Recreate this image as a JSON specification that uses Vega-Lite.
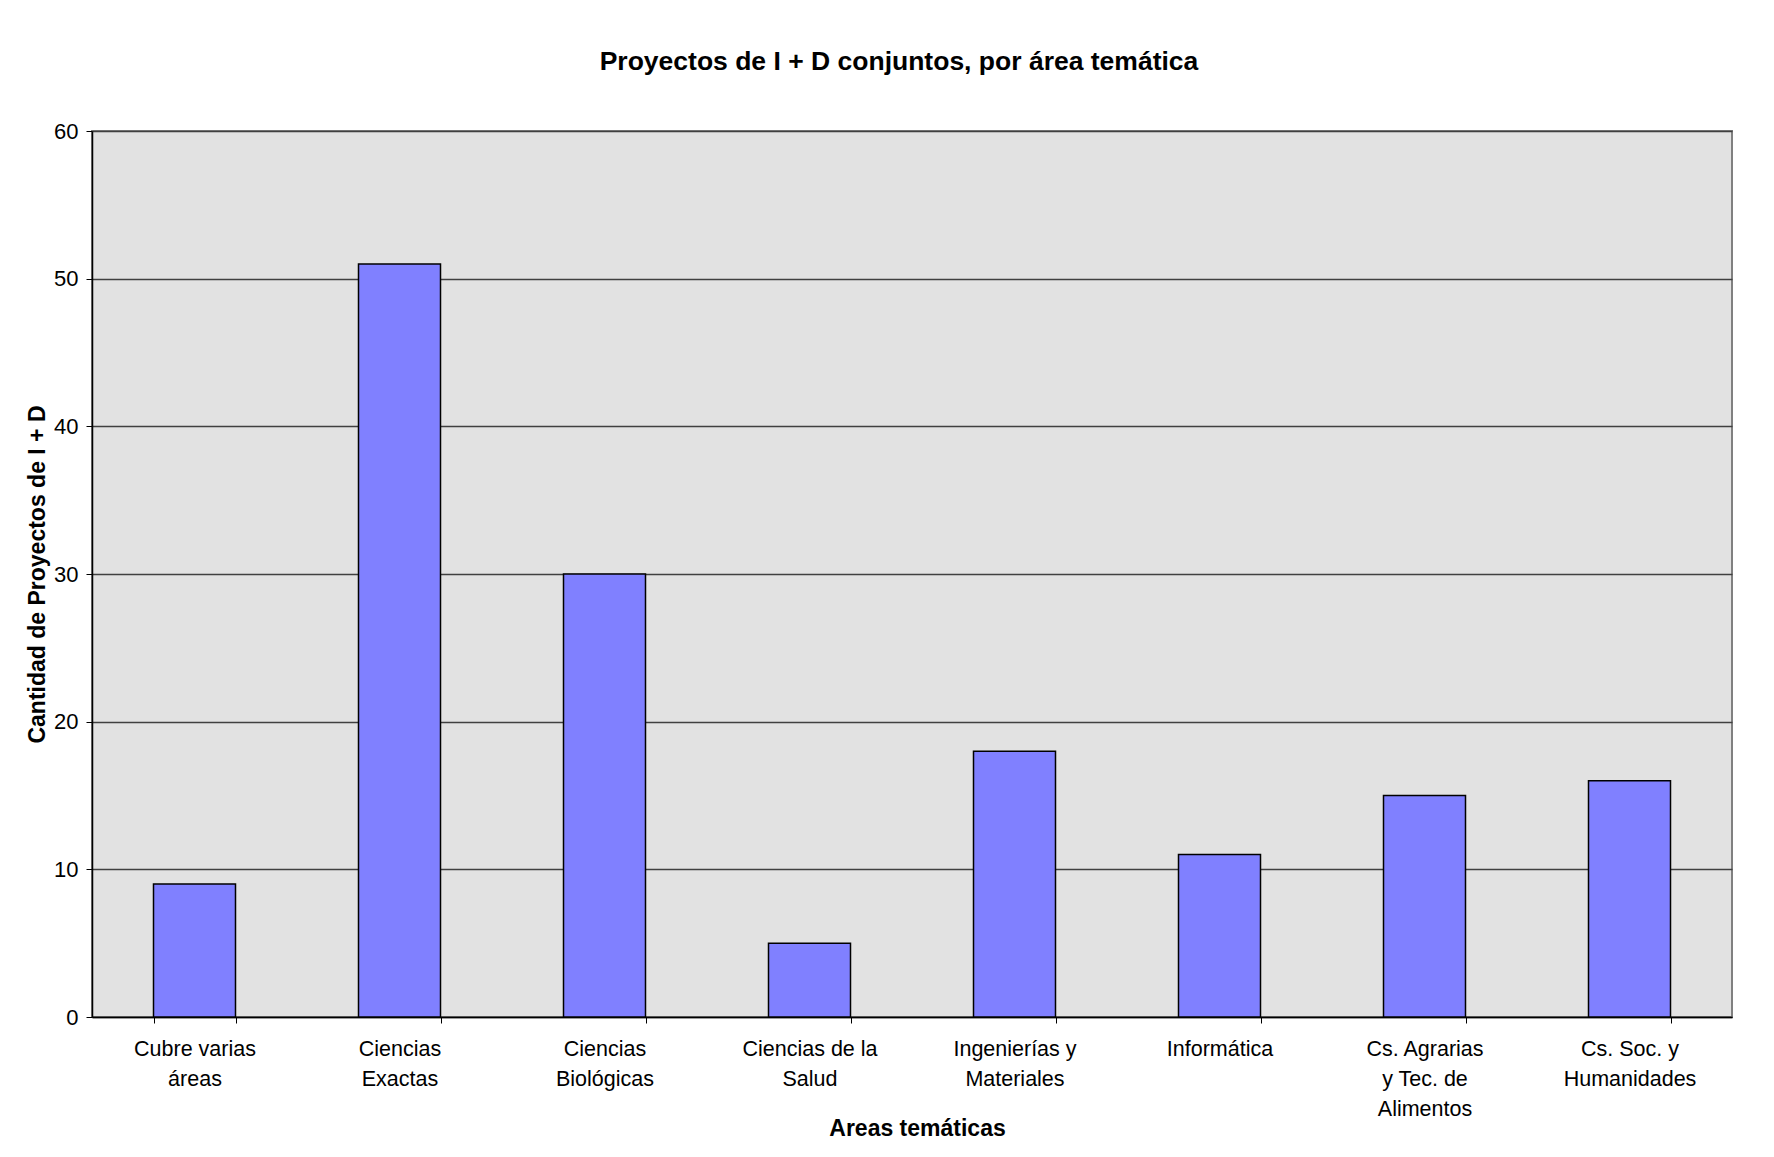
{
  "$schema": "https://vega.github.io/schema/vega-lite/v6.json",
  "autosize": "none",
  "width": 1640,
  "height": 886,
  "padding": {"left": 92, "top": 131, "right": 42, "bottom": 140},
  "background": "white",
  "title": {
    "text": "Proyectos de I + D conjuntos, por área temática",
    "font": "Liberation Sans",
    "fontSize": 26.5,
    "fontWeight": "bold",
    "color": "black",
    "anchor": "middle",
    "dx": -13,
    "offset": 45
  },
  "data": {
    "values": [
      {"area": "Cubre varias áreas", "proyectos": 9},
      {"area": "Ciencias Exactas", "proyectos": 51},
      {"area": "Ciencias Biológicas", "proyectos": 30},
      {"area": "Ciencias de la Salud", "proyectos": 5},
      {"area": "Ingenierías y Materiales", "proyectos": 18},
      {"area": "Informática", "proyectos": 11},
      {"area": "Cs. Agrarias y Tec. de Alimentos", "proyectos": 15},
      {"area": "Cs. Soc. y Humanidades", "proyectos": 16}
    ]
  },
  "mark": {"type": "bar", "color": "#8080FF", "stroke": "black", "strokeWidth": 1.5},
  "encoding": {
    "x": {
      "field": "area",
      "type": "nominal",
      "sort": null,
      "scale": {"paddingInner": 0.6, "paddingOuter": 0.3},
      "axis": {
        "title": "Areas temáticas",
        "titleFont": "Liberation Sans",
        "titleFontSize": 23,
        "titleFontWeight": "bold",
        "titleColor": "black",
        "titleBaseline": "middle",
        "titleY": 111,
        "titleX": 825,
        "labelExpr": "{'Cubre varias áreas':['Cubre varias','áreas'],'Ciencias Exactas':['Ciencias','Exactas'],'Ciencias Biológicas':['Ciencias','Biológicas'],'Ciencias de la Salud':['Ciencias de la','Salud'],'Ingenierías y Materiales':['Ingenierías y','Materiales'],'Informática':['Informática'],'Cs. Agrarias y Tec. de Alimentos':['Cs. Agrarias','y Tec. de','Alimentos'],'Cs. Soc. y Humanidades':['Cs. Soc. y','Humanidades']}[datum.label]",
        "labelAngle": 0,
        "labelFont": "Liberation Sans",
        "labelFontSize": 21.5,
        "labelColor": "black",
        "labelLineHeight": 30,
        "labelBaseline": "top",
        "labelPadding": 15,
        "labelLimit": 300,
        "tickBand": "extent",
        "tickSize": 6,
        "tickColor": "black",
        "tickWidth": 1,
        "domainColor": "black",
        "domainWidth": 1.5,
        "grid": false
      }
    },
    "y": {
      "field": "proyectos",
      "type": "quantitative",
      "scale": {"domain": [0, 60], "nice": false},
      "axis": {
        "values": [0, 10, 20, 30, 40, 50, 60],
        "title": "Cantidad de Proyectos de I + D",
        "titleFont": "Liberation Sans",
        "titleFontSize": 23,
        "titleFontWeight": "bold",
        "titleColor": "black",
        "titlePadding": 4,
        "labelFont": "Liberation Sans",
        "labelFontSize": 22,
        "labelColor": "black",
        "labelPadding": 8,
        "tickSize": 6,
        "tickColor": "black",
        "domainColor": "black",
        "domainWidth": 1.5,
        "grid": true,
        "gridColor": "#404040",
        "gridWidth": 1.3
      }
    }
  },
  "config": {
    "view": {"fill": "#E2E2E2", "stroke": "#808080", "strokeWidth": 2},
    "axis": {"labelFont": "Liberation Sans"}
  }
}
